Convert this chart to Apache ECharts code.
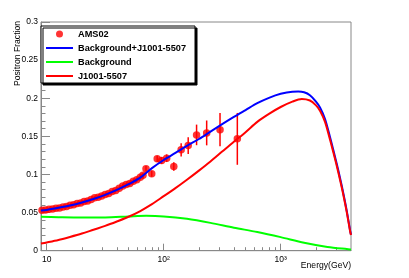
<!DOCTYPE html>
<html><head><meta charset="utf-8">
<script src="https://cdn.jsdelivr.net/npm/echarts@6/dist/echarts.min.js"></script>
<style>html,body{margin:0;padding:0;background:#fff}#c{width:409px;height:278px}</style>
</head><body><div id="c"></div>
<script>
// AMS02 positron fraction points (energy in GeV, fraction, error)
const amsE = [9.12, 9.77, 10.47, 11.22, 12.02, 12.88, 13.80, 14.79, 15.85, 16.98, 18.20, 19.50, 20.89, 22.39, 23.99, 25.70, 27.54, 29.51, 31.62, 33.88, 36.31, 38.90, 41.69, 44.67, 47.86, 51.29, 54.95, 58.88, 63.10, 66.5, 70.6, 79, 88, 96, 106, 122, 141, 162, 191, 233, 303, 426];
const amsY = [0.0532, 0.0533, 0.0543, 0.0546, 0.0557, 0.0561, 0.0574, 0.0580, 0.0595, 0.0603, 0.0620, 0.0627, 0.0645, 0.0652, 0.0672, 0.0695, 0.0700, 0.0718, 0.0738, 0.0750, 0.0775, 0.0790, 0.0818, 0.0850, 0.0870, 0.0882, 0.0910, 0.0930, 0.0965, 0.0990, 0.1075, 0.1009, 0.1205, 0.1183, 0.1213, 0.1105, 0.1323, 0.1379, 0.1519, 0.1545, 0.1588, 0.1467];
const amsErr = [0.0015, 0.0015, 0.0015, 0.0015, 0.0015, 0.0015, 0.0015, 0.0015, 0.0016, 0.0016, 0.0016, 0.0017, 0.0017, 0.0018, 0.0018, 0.0019, 0.0019, 0.002, 0.002, 0.002, 0.0021, 0.0022, 0.0023, 0.0024, 0.0025, 0.0026, 0.0028, 0.003, 0.0031, 0.0032, 0.0035, 0.0038, 0.004, 0.0045, 0.005, 0.0055, 0.0087, 0.011, 0.0135, 0.0163, 0.0218, 0.034];
// Background + J1001-5507 (blue)
const sumE = [8.93, 10, 12.6, 15.8, 20.0, 25.1, 31.6, 39.8, 50.1, 63.1, 79.4, 100, 126, 158, 200, 251, 316, 398, 501, 631, 794, 1000, 1259, 1413, 1585, 1778, 1995, 2168, 2393, 2642, 2818, 3013, 3236, 3436, 3673, 3917, 3990];
const sumY = [0.0528, 0.0535, 0.0562, 0.0592, 0.0632, 0.0678, 0.0733, 0.0797, 0.0872, 0.0958, 0.1083, 0.1190, 0.1282, 0.1375, 0.1465, 0.1562, 0.1660, 0.1755, 0.1845, 0.1935, 0.2005, 0.2058, 0.2086, 0.2088, 0.2078, 0.2040, 0.1960, 0.1880, 0.1728, 0.1488, 0.1320, 0.1140, 0.0935, 0.0748, 0.0520, 0.0268, 0.0210];
// Background (green)
const bgE = [8.93, 12.6, 20.0, 31.6, 50.1, 70.8, 100, 158, 251, 398, 631, 1000, 1585, 2512, 3990];
const bgY = [0.0445, 0.0440, 0.0436, 0.0436, 0.0449, 0.0458, 0.0450, 0.0418, 0.0365, 0.0302, 0.0245, 0.0178, 0.0105, 0.0050, 0.0015];
// J1001-5507 (red)
const psrE = [8.93, 10, 12.6, 15.8, 20.0, 25.1, 31.6, 39.8, 50.1, 63.1, 79.4, 100, 126, 158, 200, 251, 316, 398, 501, 631, 794, 1000, 1259, 1514, 1778, 1995, 2168, 2393, 2642, 2818, 3013, 3236, 3436, 3673, 3917, 3990];
const psrY = [0.0094, 0.0108, 0.0140, 0.0180, 0.0225, 0.0275, 0.0325, 0.0383, 0.0445, 0.0520, 0.0610, 0.0715, 0.0820, 0.0930, 0.1050, 0.1170, 0.1300, 0.1430, 0.1555, 0.1690, 0.1795, 0.1885, 0.1955, 0.1990, 0.1970, 0.1910, 0.1837, 0.1690, 0.1455, 0.1290, 0.1115, 0.0910, 0.0728, 0.0505, 0.0258, 0.0205];
// axes
const xMajorTicks = [10, 100, 1000];
const xMajorLabels = ['10', '10²', '10³'];
const xMinorTicks = [20, 30, 40, 50, 60, 70, 80, 90, 200, 300, 400, 500, 600, 700, 800, 900, 2000, 3000];
const xMinE = 8.94, xMaxE = 3990;
const yMin = 0, yMax = 0.3, yStep = 0.05;

const lg = Math.log10;
const F = '"Liberation Sans", Arial, Helvetica, sans-serif';
const chart = echarts.init(document.getElementById('c'), null, {renderer: 'canvas'});
const pts = (E, Y) => E.map((e, i) => [lg(e), Y[i]]);
const majorL = xMajorTicks.map(lg);
const lineIcon = 'path://M0,0L0,0.01M0,2.5L27,2.5L27,4.5L0,4.5ZM27,7L27,6.99';

chart.setOption({
  animation: false,
  grid: {left: 41, right: 58, top: 22, bottom: 27.3, show: true, borderColor: '#888', borderWidth: 1},
  xAxis: [{
    type: 'value', min: lg(xMinE), max: lg(xMaxE), position: 'bottom',
    axisLine: {show: true, onZero: false, lineStyle: {color: '#888', width: 1}},
    splitLine: {show: false},
    axisTick: {show: true, inside: true, length: 7, customValues: majorL, lineStyle: {color: '#888'}},
    axisLabel: {customValues: majorL, margin: 4, fontSize: 8.5, color: '#000', fontFamily: F,
      formatter: v => { for (let i = 0; i < majorL.length; i++) if (Math.abs(majorL[i] - v) < 1e-6) return xMajorLabels[i]; return ''; }}
  }, {
    type: 'value', min: lg(xMinE), max: lg(xMaxE), position: 'bottom',
    axisLine: {show: false, onZero: false},
    splitLine: {show: false},
    axisTick: {show: true, inside: true, length: 3.5, customValues: xMinorTicks.map(lg), lineStyle: {color: '#888'}},
    axisLabel: {show: false}
  }],
  yAxis: {
    type: 'value', min: yMin, max: yMax, interval: yStep,
    axisLine: {show: true, onZero: false, lineStyle: {color: '#888', width: 1}},
    splitLine: {show: false},
    axisTick: {show: true, inside: true, length: 9, lineStyle: {color: '#888'}},
    minorTick: {show: true, splitNumber: 5, length: 4.5, lineStyle: {color: '#888'}},
    axisLabel: {margin: 3, fontSize: 8.5, color: '#000', fontFamily: F}
  },
  legend: {
    orient: 'vertical', left: 41, top: 26,
    padding: [1, 9, 0, 5], itemWidth: 27, itemHeight: 7, itemGap: 0,
    backgroundColor: '#fff', borderColor: '#000', borderWidth: 1,
    shadowColor: '#000', shadowOffsetX: 2, shadowOffsetY: 2, shadowBlur: 0.01,
    itemStyle: {borderWidth: 0},
    textStyle: {fontWeight: 'bold', fontSize: 9.2, color: '#000', fontFamily: F, lineHeight: 14},
    data: [{name: 'AMS02', icon: 'circle'},
      {name: 'Background+J1001-5507', icon: lineIcon},
      {name: 'Background', icon: lineIcon},
      {name: 'J1001-5507', icon: lineIcon}]
  },
  graphic: [
    {type: 'text', x: 18, y: 21, rotation: Math.PI / 2,
      style: {text: 'Positron Fraction', font: '8.6px ' + F, fill: '#000', align: 'right', verticalAlign: 'middle'}},
    {type: 'text', x: 351, y: 266,
      style: {text: 'Energy(GeV)', font: '8.6px ' + F, fill: '#000', align: 'right', verticalAlign: 'middle'}}
  ],
  series: [
    {type: 'custom', name: 'errbars', xAxisIndex: 0, z: 2,
      data: amsE.map((e, i) => [lg(e), amsY[i] - amsErr[i], amsY[i] + amsErr[i]]),
      encode: {x: 0, y: [1, 2]},
      renderItem: (params, api) => {
        const a = api.coord([api.value(0), api.value(1)]);
        const b = api.coord([api.value(0), api.value(2)]);
        return {type: 'line', shape: {x1: a[0], y1: a[1], x2: b[0], y2: b[1]}, style: {stroke: '#ff0000', lineWidth: 1.5}};
      }},
    {type: 'scatter', name: 'AMS02', z: 3, symbol: 'circle', symbolSize: 7.5,
      itemStyle: {color: '#ff0000'}, data: pts(amsE, amsY)},
    {type: 'line', name: 'Background+J1001-5507', z: 5, symbol: 'none', smooth: 0.3,
      lineStyle: {color: '#0000ff', width: 2}, itemStyle: {color: '#0000ff'}, data: pts(sumE, sumY)},
    {type: 'line', name: 'Background', z: 5, symbol: 'none', smooth: 0.3,
      lineStyle: {color: '#00ff00', width: 2}, itemStyle: {color: '#00ff00'}, data: pts(bgE, bgY)},
    {type: 'line', name: 'J1001-5507', z: 6, symbol: 'none', smooth: 0.3,
      lineStyle: {color: '#ff0000', width: 2}, itemStyle: {color: '#ff0000'}, data: pts(psrE, psrY)}
  ]
});
</script>
</body></html>
